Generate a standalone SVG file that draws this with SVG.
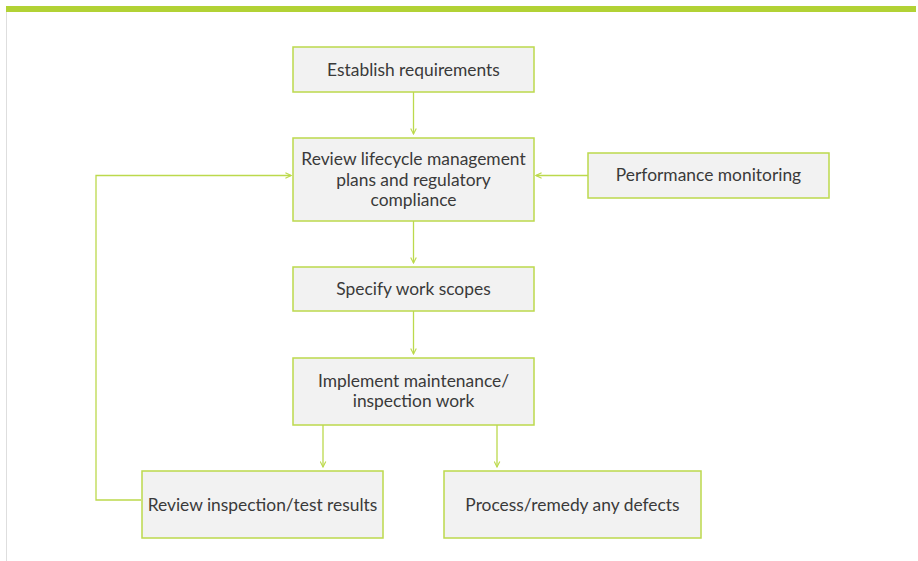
<svg xmlns="http://www.w3.org/2000/svg" width="918" height="561" viewBox="0 0 918 561">
<style>
.box{fill:#f2f2f2;stroke:#bcd94c;stroke-width:1.5}
.t{font-family:Lato,"Open Sans",sans-serif;font-size:17.4px;fill:#3a3a3a;text-anchor:middle}
.c{fill:none;stroke:#bcd94c;stroke-width:1.3}
</style>
<defs>
<marker id="ah" viewBox="0 0 10 10" refX="9" refY="5" markerWidth="7" markerHeight="7" markerUnits="userSpaceOnUse" orient="auto">
<path d="M1,1 L9,5 L1,9" fill="none" stroke="#bcd94c" stroke-width="1.6"/>
</marker>
</defs>
<rect x="0" y="0" width="918" height="561" fill="#fff"/>
<rect x="6" y="6" width="910" height="6" fill="#b2d235"/>
<line x1="6.5" y1="12" x2="6.5" y2="561" stroke="#dedede" stroke-width="1"/>
<g id="connectors">
<line class="c" x1="413.5" y1="92" x2="413.5" y2="134" marker-end="url(#ah)"/>
<line class="c" x1="588" y1="175.5" x2="536" y2="175.5" marker-end="url(#ah)"/>
<polyline class="c" points="141,500 96,500 96,175.5 291,175.5" marker-end="url(#ah)"/>
<line class="c" x1="413.5" y1="221" x2="413.5" y2="263" marker-end="url(#ah)"/>
<line class="c" x1="413.5" y1="311" x2="413.5" y2="354" marker-end="url(#ah)"/>
<line class="c" x1="323" y1="425" x2="323" y2="467" marker-end="url(#ah)"/>
<line class="c" x1="497" y1="425" x2="497" y2="467" marker-end="url(#ah)"/>
</g>
<g id="n1"><rect class="box" x="293" y="47" width="241" height="45"/><text class="t" x="413.5" y="76">Establish requirements</text></g>
<g id="n2"><rect class="box" x="293" y="138" width="241" height="83"/><text class="t" x="413.5" y="165">Review lifecycle management</text><text class="t" x="413.5" y="185.5">plans and regulatory</text><text class="t" x="413.5" y="206">compliance</text></g>
<g id="n3"><rect class="box" x="588" y="153" width="241" height="45"/><text class="t" x="708.5" y="181">Performance monitoring</text></g>
<g id="n4"><rect class="box" x="293" y="267" width="241" height="44"/><text class="t" x="413.5" y="295">Specify work scopes</text></g>
<g id="n5"><rect class="box" x="293" y="358" width="241" height="67"/><text class="t" x="413.5" y="387">Implement maintenance/</text><text class="t" x="413.5" y="407">inspection work</text></g>
<g id="n6"><rect class="box" x="142" y="471" width="241" height="67"/><text class="t" x="262.5" y="511">Review inspection/test results</text></g>
<g id="n7"><rect class="box" x="444" y="471" width="257" height="67"/><text class="t" x="572.5" y="511">Process/remedy any defects</text></g>
</svg>
